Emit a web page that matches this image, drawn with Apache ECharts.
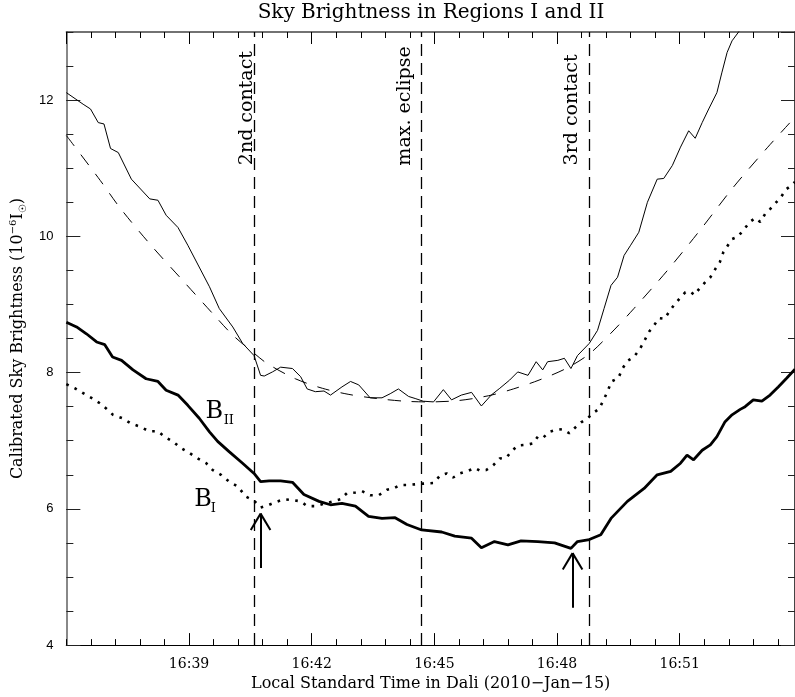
<!DOCTYPE html>
<html>
<head>
<meta charset="utf-8">
<title>Sky Brightness in Regions I and II</title>
<script src="https://cdn.jsdelivr.net/npm/echarts@6/dist/echarts.min.js"></script>
<style>
  html, body { margin: 0; padding: 0; background: #fff; }
  #chart { width: 795px; height: 697px; }
</style>
</head>
<body>
<div id="chart"></div>
<script>
// time = minutes after 16:00 (local time, Dali), brightness in 1e-6 of solar
const thinCurve = [
  [36.00, 12.11], [36.41, 11.94], [36.59, 11.87], [36.78, 11.67], [36.92, 11.65], [37.08, 11.29],
  [37.27, 11.23], [37.59, 10.84], [38.04, 10.55], [38.24, 10.53], [38.44, 10.31], [38.73, 10.13],
  [38.97, 9.87], [39.50, 9.26], [39.74, 8.94], [40.07, 8.67], [40.31, 8.43], [40.59, 8.25],
  [40.75, 7.96], [40.84, 7.95], [41.04, 8.01], [41.24, 8.08], [41.53, 8.06], [41.73, 7.94],
  [41.89, 7.76], [42.09, 7.72], [42.30, 7.73], [42.46, 7.67], [42.74, 7.79], [42.95, 7.87],
  [43.15, 7.82], [43.43, 7.63], [43.72, 7.63], [43.92, 7.69], [44.12, 7.76], [44.37, 7.65],
  [44.53, 7.62], [44.73, 7.58], [44.98, 7.57], [45.22, 7.75], [45.42, 7.60], [45.66, 7.67],
  [45.91, 7.71], [46.15, 7.51], [46.39, 7.67], [46.60, 7.77], [46.84, 7.89], [47.04, 8.01],
  [47.29, 7.96], [47.49, 8.16], [47.65, 8.04], [47.77, 8.16], [48.02, 8.18], [48.18, 8.21],
  [48.34, 8.06], [48.50, 8.25], [48.79, 8.43], [48.99, 8.62], [49.15, 8.94], [49.32, 9.28],
  [49.48, 9.40], [49.64, 9.72], [49.80, 9.87], [50.00, 10.06], [50.21, 10.50], [50.45, 10.84],
  [50.61, 10.85], [50.82, 11.04], [51.02, 11.31], [51.22, 11.55], [51.38, 11.44], [51.55, 11.67],
  [51.71, 11.87], [51.91, 12.11], [52.03, 12.40], [52.16, 12.70], [52.28, 12.87], [52.44, 13.00],
  [52.60, 13.15]
];

const fitCurve = [
  [36.00, 11.48], [36.83, 10.82], [37.31, 10.42], [38.04, 9.89], [38.85, 9.35], [39.65, 8.82],
  [40.07, 8.55], [40.60, 8.28], [40.92, 8.13], [41.60, 7.91], [42.26, 7.77], [42.91, 7.68],
  [43.59, 7.62], [44.28, 7.58], [44.86, 7.57], [45.59, 7.59], [46.32, 7.66], [46.93, 7.76],
  [47.56, 7.89], [48.22, 8.06], [48.78, 8.27], [49.32, 8.58], [49.88, 8.94], [50.70, 9.50],
  [51.51, 10.10], [52.31, 10.72], [53.14, 11.30], [53.82, 11.75]
];

const brightII = [
  [36.00, 8.74], [36.25, 8.67], [36.49, 8.57], [36.74, 8.45], [36.94, 8.41], [37.13, 8.23],
  [37.35, 8.18], [37.63, 8.04], [37.95, 7.91], [38.24, 7.87], [38.44, 7.74], [38.73, 7.67],
  [38.97, 7.52], [39.25, 7.33], [39.50, 7.13], [39.70, 6.99], [39.98, 6.84], [40.31, 6.67],
  [40.59, 6.52], [40.75, 6.40], [40.96, 6.41], [41.24, 6.41], [41.53, 6.39], [41.81, 6.21],
  [42.18, 6.11], [42.46, 6.06], [42.74, 6.08], [43.07, 6.04], [43.39, 5.89], [43.72, 5.86],
  [44.04, 5.87], [44.33, 5.77], [44.69, 5.69], [45.18, 5.66], [45.50, 5.60], [45.91, 5.57],
  [46.15, 5.43], [46.47, 5.52], [46.80, 5.47], [47.12, 5.53], [47.53, 5.52], [47.94, 5.50],
  [48.34, 5.42], [48.50, 5.52], [48.79, 5.55], [49.07, 5.62], [49.32, 5.86], [49.72, 6.11],
  [50.13, 6.30], [50.45, 6.50], [50.78, 6.55], [51.02, 6.67], [51.18, 6.79], [51.34, 6.72],
  [51.55, 6.86], [51.75, 6.94], [51.91, 7.06], [52.11, 7.28], [52.28, 7.38], [52.48, 7.46],
  [52.60, 7.50], [52.80, 7.60], [53.01, 7.58], [53.21, 7.67], [53.41, 7.79], [53.62, 7.92],
  [53.82, 8.05]
];

const brightI = [
  [36.00, 7.83], [36.21, 7.77], [36.46, 7.68], [36.64, 7.62], [36.82, 7.55], [36.98, 7.47],
  [37.14, 7.38], [37.37, 7.33], [37.59, 7.25], [37.79, 7.21], [38.02, 7.14], [38.24, 7.14],
  [38.40, 7.06], [38.60, 6.99], [38.81, 6.89], [39.01, 6.82], [39.21, 6.74], [39.42, 6.67],
  [39.58, 6.57], [39.78, 6.50], [39.98, 6.40], [40.19, 6.33], [40.39, 6.18], [40.59, 6.12],
  [40.75, 6.02], [40.96, 6.06], [41.12, 6.10], [41.32, 6.14], [41.53, 6.13], [41.73, 6.11],
  [41.89, 6.04], [42.09, 6.04], [42.34, 6.08], [42.70, 6.14], [42.86, 6.23], [43.07, 6.24],
  [43.23, 6.26], [43.43, 6.20], [43.64, 6.20], [43.84, 6.28], [44.00, 6.30], [44.16, 6.35],
  [44.33, 6.35], [44.53, 6.36], [44.73, 6.37], [44.98, 6.38], [45.14, 6.49], [45.30, 6.52],
  [45.46, 6.46], [45.62, 6.52], [45.83, 6.56], [45.99, 6.60], [46.11, 6.56], [46.27, 6.57],
  [46.44, 6.64], [46.60, 6.74], [46.76, 6.75], [46.88, 6.84], [47.04, 6.93], [47.25, 6.94],
  [47.41, 6.96], [47.53, 7.06], [47.65, 7.04], [47.81, 7.13], [47.98, 7.16], [48.14, 7.17],
  [48.30, 7.11], [48.42, 7.18], [48.59, 7.27], [48.75, 7.33], [48.87, 7.40], [49.03, 7.47],
  [49.14, 7.60], [49.24, 7.73], [49.33, 7.87], [49.50, 7.92], [49.60, 8.06], [49.72, 8.17],
  [49.88, 8.23], [50.02, 8.34], [50.13, 8.46], [50.25, 8.60], [50.37, 8.69], [50.49, 8.80],
  [50.63, 8.79], [50.76, 8.91], [50.86, 8.99], [51.00, 9.09], [51.14, 9.18], [51.26, 9.19],
  [51.36, 9.14], [51.49, 9.24], [51.63, 9.33], [51.75, 9.40], [51.87, 9.52], [51.98, 9.62],
  [52.07, 9.77], [52.18, 9.87], [52.28, 9.96], [52.41, 9.99], [52.56, 10.09], [52.71, 10.21],
  [52.85, 10.27], [52.97, 10.21], [53.09, 10.33], [53.21, 10.40], [53.33, 10.48], [53.47, 10.57],
  [53.60, 10.69], [53.74, 10.75], [53.82, 10.80]
];

const contactTimes = [40.59, 44.69, 48.79];
const contactNames = ['2nd contact', 'max. eclipse', '3rd contact'];
const contactLabelAt = [[40.42, 12.72], [44.29, 12.79], [48.36, 12.67]];
const arrowTips = [[40.75, 5.93], [48.38, 5.35]];
const curveLabels = [
  { at: [39.40, 7.42], main: 'B', sub: 'II' },
  { at: [39.13, 6.13], main: 'B', sub: 'I' }
];

const serif = '"DejaVu Serif", serif';
const sans = '"Liberation Sans", Arial, sans-serif';
const xMin = 36, xMax = 53.82, yMin = 4, yMax = 13;

function pad(n) { return n < 10 ? '0' + n : '' + n; }

function xAxisDef(pos, interval, tickLen, labels) {
  return {
    type: 'value', position: pos, min: xMin, max: xMax, interval: interval,
    axisLine: { show: tickLen > 8, lineStyle: { color: pos === 'top' ? '#444' : '#000', width: pos === 'top' ? 1.5 : 1.2 } },
    axisTick: { show: true, inside: true, length: tickLen, lineStyle: { color: '#000', width: 1 } },
    axisLabel: labels ? {
      show: true, margin: 12, color: '#000', fontFamily: serif, fontSize: 14,
      showMinLabel: false, showMaxLabel: false,
      formatter: v => (Math.abs(v % 3) < 1e-6 ? '16:' + pad(Math.round(v)) : '')
    } : { show: false },
    splitLine: { show: false }
  };
}

function yAxisDef(pos, interval, tickLen, labels) {
  return {
    type: 'value', position: pos, min: yMin, max: yMax, interval: interval,
    axisLine: { show: tickLen > 8, lineStyle: { color: pos === 'left' ? '#888' : '#444', width: 2 } },
    axisTick: { show: true, inside: true, length: tickLen, lineStyle: { color: '#222', width: 1 } },
    axisLabel: labels ? {
      show: true, margin: 13, color: '#000', fontFamily: sans, fontSize: 13,
      showMaxLabel: false
    } : { show: false },
    splitLine: { show: false }
  };
}

const xMain = xAxisDef('bottom', 3, 12, true);
xMain.name = 'Local Standard Time in Dali (2010\u2212Jan\u221215)';
xMain.nameLocation = 'middle';
xMain.nameGap = 28;
xMain.nameTextStyle = { fontFamily: serif, fontSize: 16, color: '#000' };

const yMain = yAxisDef('left', 2, 14, true);
yMain.name = 'Calibrated Sky Brightness (10{sup|\u22126}I{sub|\u2609})';
yMain.nameLocation = 'middle';
yMain.nameGap = 33;
yMain.nameTextStyle = {
  fontFamily: serif, fontSize: 16, color: '#000', lineHeight: 20,
  rich: {
    sup: { fontFamily: serif, fontSize: 10, lineHeight: 10, verticalAlign: 'top', color: '#000' },
    sub: { fontFamily: serif, fontSize: 10, lineHeight: 10, verticalAlign: 'bottom', color: '#000' }
  }
};

const arrowLines = [];
arrowTips.forEach(([t, v]) => {
  arrowLines.push([{ coord: [t, v] }, { coord: [t, v - 0.8] }]);
  arrowLines.push([{ coord: [t, v] }, { coord: [t - 0.24, v - 0.24] }]);
  arrowLines.push([{ coord: [t, v] }, { coord: [t + 0.24, v - 0.24] }]);
});

const option = {
  animation: false,
  backgroundColor: '#fff',
  grid: { left: 63, right: 0, top: 32, bottom: 50, containLabel: false },
  xAxis: [xMain, xAxisDef('bottom', 0.6, 6, false), xAxisDef('top', 3, 12, false), xAxisDef('top', 0.6, 6, false)],
  yAxis: [yMain, yAxisDef('left', 0.5, 7, false), yAxisDef('right', 2, 14, false), yAxisDef('right', 0.5, 7, false)],
  series: [
    {
      name: 'total', type: 'line', data: thinCurve, showSymbol: false, clip: true,
      lineStyle: { color: '#000', width: 1 },
      markLine: {
        silent: true, symbol: ['none', 'none'], label: { show: false },
        lineStyle: { color: '#000', width: 1.3, type: [12, 7] },
        data: contactTimes.map(t => ({ xAxis: t }))
      }
    },
    {
      name: 'fit', type: 'line', data: fitCurve, showSymbol: false, smooth: 0.3, clip: true,
      lineStyle: { color: '#000', width: 1, type: [13, 11] }
    },
    {
      name: 'B_II', type: 'line', data: brightII, showSymbol: false, clip: true,
      lineStyle: { color: '#000', width: 2.8 },
      markLine: {
        silent: true, symbol: ['none', 'none'], label: { show: false },
        lineStyle: { color: '#000', width: 2, type: 'solid' },
        data: arrowLines
      }
    },
    {
      name: 'B_I', type: 'line', data: brightI, showSymbol: false, clip: true,
      lineStyle: { color: '#000', width: 2.6, type: [2.6, 6.4], cap: 'butt' }
    }
  ]
};

const chart = echarts.init(document.getElementById('chart'));
chart.setOption(option);

const toPx = p => chart.convertToPixel({ xAxisIndex: 0, yAxisIndex: 0 }, p);
const graphics = [{
  type: 'text', x: 431, y: 13,
  style: { text: 'Sky Brightness in Regions I and II', font: '20px ' + serif, fill: '#000',
    align: 'center', verticalAlign: 'middle', textAlign: 'center', textVerticalAlign: 'middle' }
}];
contactNames.forEach((name, i) => {
  const p = toPx(contactLabelAt[i]);
  graphics.push({
    type: 'text', x: p[0], y: p[1], rotation: Math.PI / 2,
    style: { text: name, font: '19px ' + serif, fill: '#000',
      align: 'right', verticalAlign: 'middle', textAlign: 'right', textVerticalAlign: 'middle' }
  });
});
curveLabels.forEach(lab => {
  const p = toPx(lab.at);
  const subDx = lab.sub === 'II' ? 18.3 : 16.3;
  graphics.push({
    type: 'text', x: p[0], y: p[1],
    style: { text: lab.main, font: '24px ' + serif, fill: '#000',
      align: 'left', verticalAlign: 'middle', textAlign: 'left', textVerticalAlign: 'middle' }
  });
  graphics.push({
    type: 'text', x: p[0] + subDx, y: p[1] + 9,
    style: { text: lab.sub, font: '13px ' + serif, fill: '#000',
      align: 'left', verticalAlign: 'middle', textAlign: 'left', textVerticalAlign: 'middle' }
  });
});
chart.setOption({ graphic: graphics });
</script>
</body>
</html>
